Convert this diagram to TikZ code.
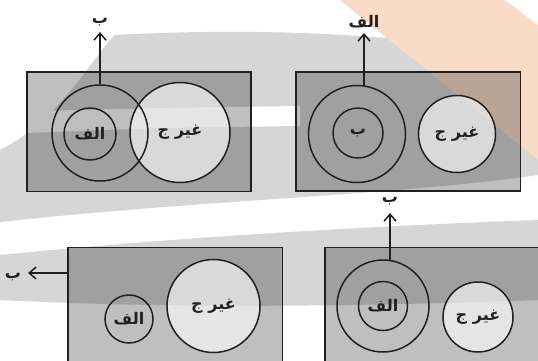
\documentclass[tikz,border=0pt]{standalone}
\usepackage{fontspec}
\newfontfamily\arabicfont[Script=Arabic]{DejaVu Sans}
\TeXXeTstate=1
\usetikzlibrary{arrows.meta}
\definecolor{wmgray}{HTML}{D6D6D6}
\definecolor{wmorange}{HTML}{F8DCC8}
\definecolor{ink}{HTML}{231F20}
\newcommand{\fa}[1]{{\arabicfont\bfseries\beginR #1\endR}}
\tikzset{
  setbox/.style={draw=ink, line width=1.5pt, fill=black, fill opacity=0.25},
  ring/.style={circle, draw=ink, line width=1.5pt, inner sep=0pt, minimum size=#1,
    text=ink, font=\fontsize{16}{18}\selectfont},
  lit/.style={fill=white, fill opacity=0.6, text opacity=1},
  outarrow/.style={draw=ink, line width=1.5pt,
    -{Straight Barb[length=7pt,width=12pt,line width=1.5pt]}},
  lbl/.style={inner sep=1pt, text=ink, font=\fontsize{16}{18}\selectfont}
}
\begin{document}
\begin{tikzpicture}[x=1pt,y=-1pt]
  \useasboundingbox (0,0) rectangle (538,360);
  \clip (0,0) rectangle (538,360);
  % watermark
  \fill[white] (0,0) rectangle (538,360);
  \fill[wmgray] (0,150) .. controls (60,120) and (90,60) .. (115,35)
    .. controls (300,25) and (450,40) .. (538,60) -- (538,175)
    .. controls (400,195) and (200,200) .. (0,222) -- cycle;
  \fill[white] (0,112) .. controls (150,108) .. (300,106) -- (300,126)
    .. controls (150,128) .. (0,134) -- cycle;
  \fill[wmgray] (0,255) .. controls (200,235) and (400,225) .. (538,220)
    -- (538,300) .. controls (400,305) and (200,310) .. (0,300) -- cycle;
  \fill[wmorange] (340,0) -- (505,0) -- (538,25) -- (538,160) -- cycle;

  % top left: A inside B, not-C overlapping
  \draw[setbox] (27,72) rectangle (251,191.5);
  \node[ring=100pt, lit] (g1) at (180,132.5) {\fa{غیر ج}};
  \node[ring=96pt] (o1) at (100,133) {};
  \node[ring=52pt] (a1) at (90,134) {\fa{الف}};
  \node[lbl] (l1) at (100,22) {\fa{ب}};
  \coordinate (t1) at (100,32);
  \draw[outarrow] (o1.north) -- (t1);

  % top right: B inside A
  \draw[setbox] (296,72) rectangle (520.5,191);
  \node[ring=77pt, lit] (g2) at (457,134) {\fa{غیر ج}};
  \node[ring=97pt] (o2) at (357,134) {};
  \node[ring=50pt] (b2) at (358,133) {\fa{ب}};
  \node[lbl] (l2) at (364,22) {\fa{الف}};
  \coordinate (s2) at (364,85.5);
  \coordinate (t2) at (364,33);
  \draw[outarrow] (s2) -- (t2);

  % bottom left: B outside
  \draw[setbox] (68,247.5) rectangle (282.5,380);
  \node[ring=48pt] (a3) at (129,319) {\fa{الف}};
  \node[ring=93pt, lit] (g3) at (213.5,306) {\fa{غیر ج}};
  \node[lbl] (l3) at (13,277) {\fa{ب}};
  \coordinate (s3) at (68,273);
  \coordinate (t3) at (28,273);
  \draw[outarrow] (s3) -- (t3);

  % bottom right: A inside B
  \draw[setbox] (325,247.5) rectangle (560,380);
  \node[ring=70pt, lit] (g4) at (478,317) {\fa{غیر ج}};
  \node[ring=92pt] (o4) at (383,306) {};
  \node[ring=49pt] (a4) at (383,306) {\fa{الف}};
  \node[lbl] (l4) at (390,201) {\fa{ب}};
  \coordinate (s4) at (390,260.5);
  \coordinate (t4) at (390,213);
  \draw[outarrow] (s4) -- (t4);
\end{tikzpicture}
\end{document}
